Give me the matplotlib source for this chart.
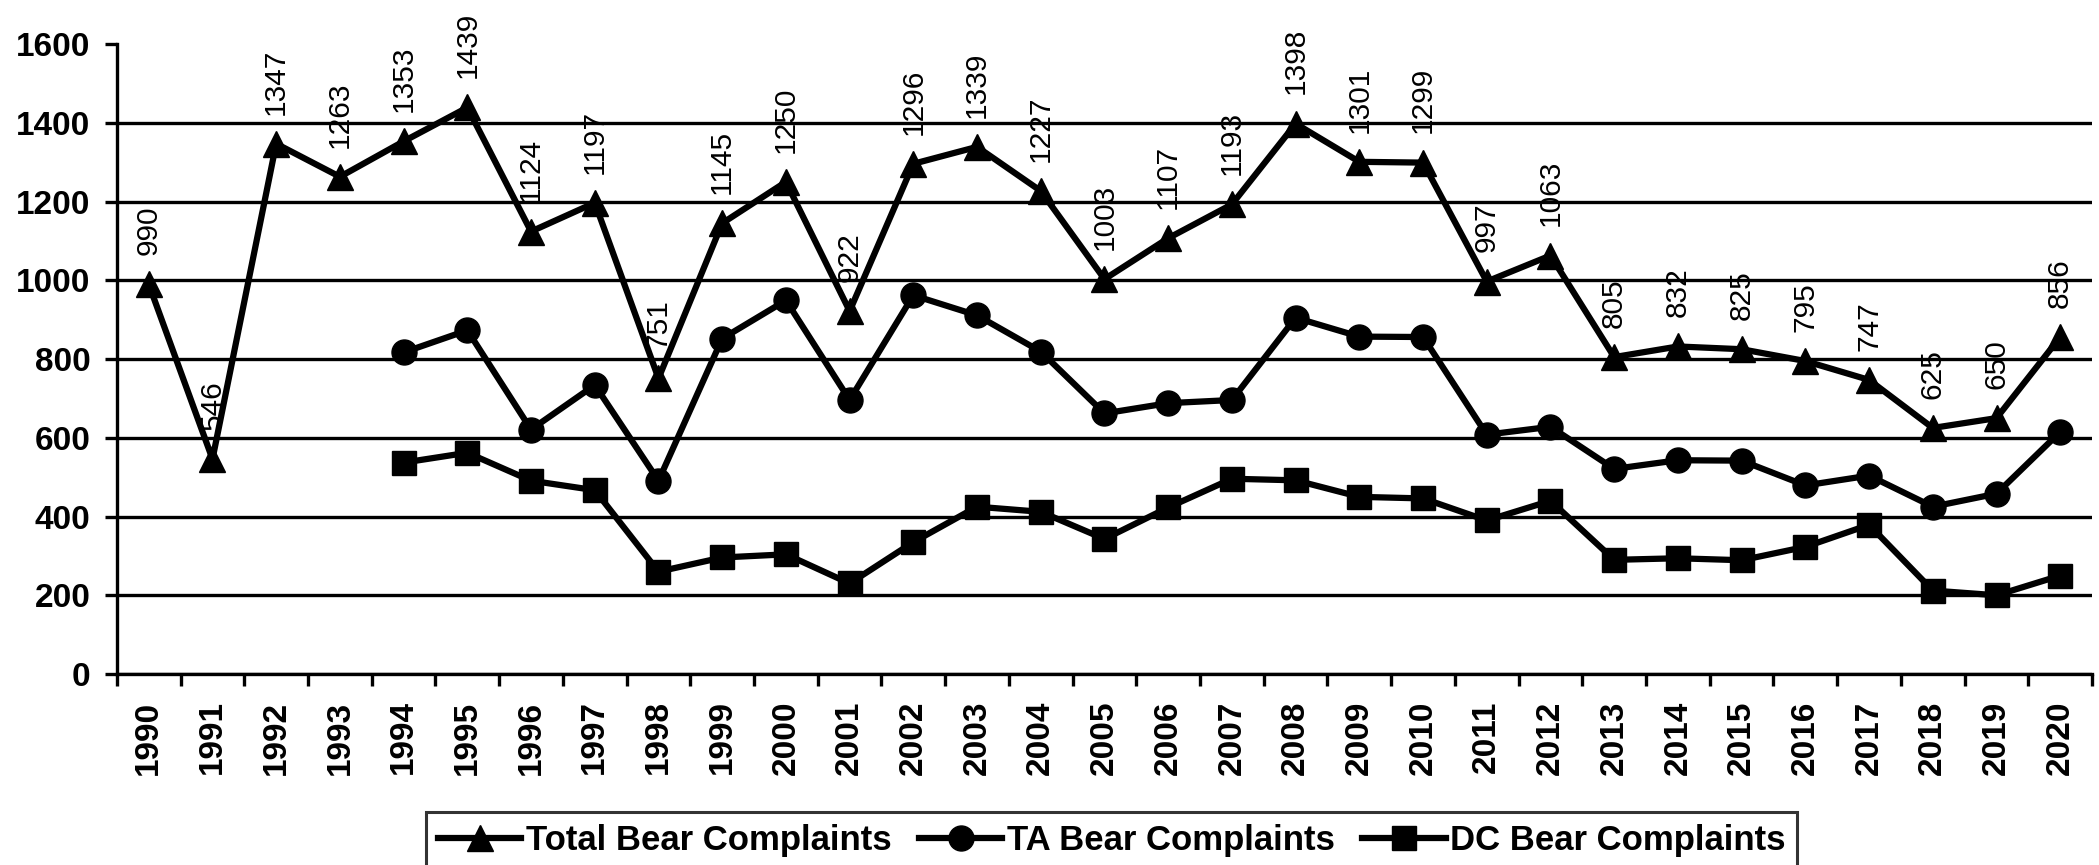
# Bear complaints 1990-2020: total, TA and DC series as black line chart

import numpy as np
import matplotlib.pyplot as plt
from matplotlib import font_manager

years = [str(y) for y in range(1990, 2021)]

total = [990, 546, 1347, 1263, 1353, 1439, 1124, 1197, 751, 1145,
         1250, 922, 1296, 1339, 1227, 1003, 1107, 1193, 1398, 1301,
         1299, 997, 1063, 805, 832, 825, 795, 747, 625, 650, 856]

nan = np.nan
ta = [nan, nan, nan, nan, 817, 873, 621, 734, 491, 852,
      949, 696, 962, 911, 819, 662, 688, 696, 905, 857,
      856, 608, 628, 521, 543, 542, 479, 504, 425, 458, 615]

dc = [nan, nan, nan, nan, 537, 562, 491, 467, 260, 296,
      304, 230, 335, 425, 412, 343, 423, 496, 492, 450,
      446, 390, 440, 290, 294, 289, 323, 379, 212, 200, 250]

series_names = ['Total Bear Complaints', 'TA Bear Complaints', 'DC Bear Complaints']
y_ticks = list(range(0, 1601, 200))

# fonts
plt.rcParams['font.family'] = ['Liberation Sans', 'DejaVu Sans']
installed = {f.name for f in font_manager.fontManager.ttflist}
if 'Liberation Sans Narrow' in installed:
    label_font = dict(family=['Liberation Sans Narrow', 'Liberation Sans'], fontsize=25)
else:
    label_font = dict(family=['Liberation Sans', 'DejaVu Sans'], fontsize=21.5)

fig = plt.figure(figsize=(20.99, 8.65), dpi=100)
ax = fig.add_axes([0.0557, 0.2208, 0.9410, 0.7282])

x = np.arange(len(years))
lw = 4.5
ax.plot(x, total, color='black', lw=lw, marker='^', ms=19, label=series_names[0], zorder=3)
ax.plot(x, ta, color='black', lw=lw, marker='o', ms=18, label=series_names[1], zorder=3)
ax.plot(x, dc, color='black', lw=lw, marker='s', ms=17, label=series_names[2], zorder=3)

# value labels on the total series
for i, v in enumerate(total):
    ax.annotate(str(v), (x[i], v), xytext=(0, 21), textcoords='offset points',
                rotation=90, ha='center', va='bottom', color='black', **label_font)

# axes
ax.set_xlim(-0.5, len(years) - 0.5)
ax.set_ylim(0, 1600)
ax.set_yticks(y_ticks)
ax.set_yticklabels([str(t) for t in y_ticks], fontsize=24, fontweight='bold')
ax.tick_params(axis='y', length=8.6, width=2.4, pad=10.5, direction='out')

ax.set_xticks(x)
ax.set_xticklabels(years, rotation=90, fontsize=24, fontweight='bold')
ax.tick_params(axis='x', which='major', length=0, pad=19)
ax.set_xticks(np.arange(-0.5, len(years)), minor=True)
ax.tick_params(axis='x', which='minor', length=8.6, width=2.4, direction='out')

ax.yaxis.grid(True, color='black', lw=2.4)
ax.get_ygridlines()[-1].set_visible(False)
ax.set_axisbelow(True)

for side in ['top', 'right']:
    ax.spines[side].set_visible(False)
for side in ['left', 'bottom']:
    ax.spines[side].set_linewidth(2.4)

leg = fig.legend(loc='upper left', bbox_to_anchor=(426 / 2099, 1 - 812 / 865),
                 ncol=3, frameon=True, fancybox=False, edgecolor='black',
                 prop={'weight': 'bold', 'size': 25}, handlelength=2.4,
                 handletextpad=0.12, columnspacing=0.8, borderpad=0.35,
                 borderaxespad=0)
leg.get_frame().set_linewidth(2.2)

fig.savefig('out.png', dpi=100)
